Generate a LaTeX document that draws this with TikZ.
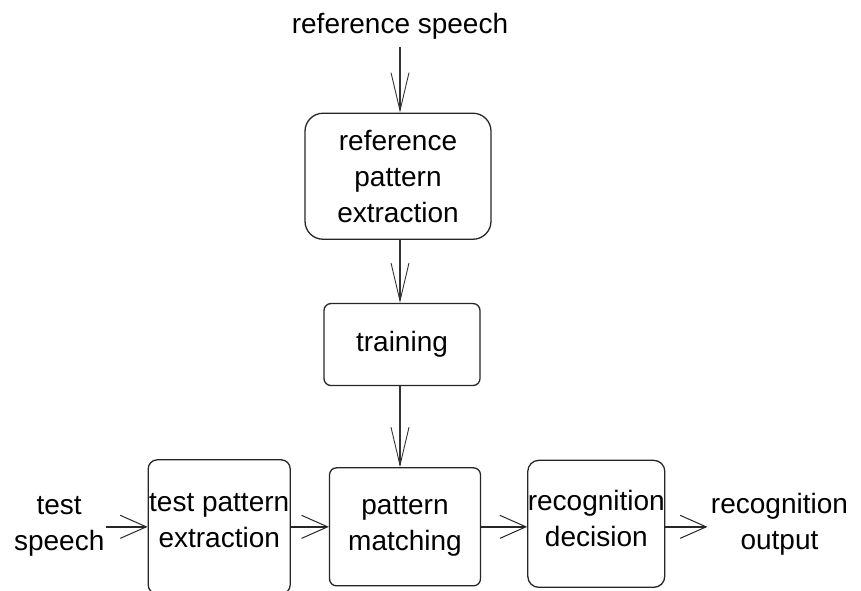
\documentclass[tikz,border=0pt]{standalone}
\usepackage{fontspec}
\setmainfont{Liberation Sans}
\usetikzlibrary{arrows.meta,positioning}
\tikzset{
  block/.style={rectangle, draw=black!85, line width=1.3pt, rounded corners=7pt, align=center, inner sep=0pt},
  word/.style={align=center},
  down/.style={-{Straight Barb[length=38pt,width=18pt,line width=0.9pt]}, line width=1.2pt, black!80},
  across/.style={-{Straight Barb[length=26pt,width=23pt,line width=1pt]}, line width=1.5pt, black!85}
}

\begin{document}
\begin{tikzpicture}[x=1pt, y=-1pt, font=\fontsize{28}{36}\selectfont]
  \useasboundingbox (0,0) rectangle (861,590);
  \clip (0,0) rectangle (861,590);
  % upper chain
  \node[word] (refsp) at (400,26) {reference speech};
  \node[block, minimum width=186pt, minimum height=126pt, rounded corners=18pt, below=70pt of refsp, xshift=-2pt] (refx) {reference\\pattern\\extraction};
  \node[block, minimum width=156pt, minimum height=82pt, below=63pt of refx, xshift=4pt] (train) {training};
  \node[block, minimum width=151pt, minimum height=118pt, below=81pt of train, xshift=3pt] (match) {pattern\\matching};
  % lower row
  \node[block, minimum width=142pt, minimum height=134pt, text depth=12pt, rounded corners=9pt, left=38pt of match] (testx) {test pattern\\extraction};
  \node[block, minimum width=134pt, minimum height=127pt, text depth=11pt, rounded corners=11pt, right=46pt of match, yshift=3pt] (dec) {recognition\\decision};
  \node[word, inner xsep=1pt, left=42pt of testx] (testsp) {test\\speech};
  \node[word, right=42pt of dec] (recout) {recognition\\output};
  \draw[down] (refsp.south) ++(0,4) -- (refsp.south |- refx.north);
  \draw[down] (refsp |- refx.south) -- (refsp |- train.north);
  \draw[down] (refsp |- train.south) -- (refsp |- match.north);
  \draw[across] (testsp.east) -- (testx.west |- testsp.east);
  \draw[across] (testx.east |- match) -- (match.west);
  \draw[across] (match.east) -- (match.east -| dec.west);
  \draw[across] (dec.east |- match) -- (recout.west |- match);
\end{tikzpicture}
\end{document}
